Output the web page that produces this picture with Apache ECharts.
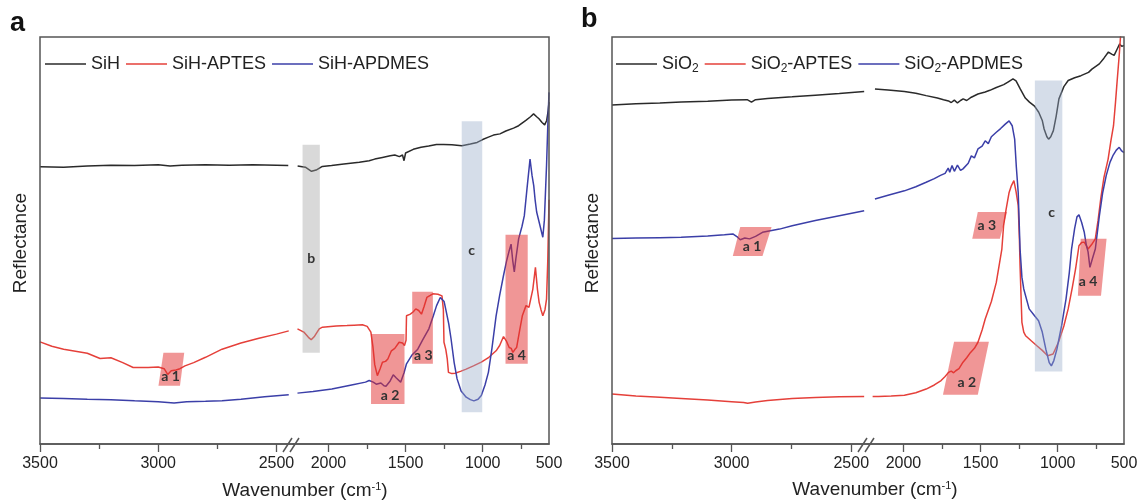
<!DOCTYPE html>
<html><head><meta charset="utf-8">
<script src="https://cdn.jsdelivr.net/npm/echarts@6/dist/echarts.min.js"></script>
<style>html,body{margin:0;padding:0;background:#fff}#c{width:1147px;height:501px}</style>
</head><body><div id="c"></div>
<script>
// ---------- tick labels / axis ranges (wavenumber, cm-1) ----------
const leftRange = [2430, 3500];
const rightRange = [570, 2230];
const ticksLeftMajor = [3500, 3000, 2500];
const ticksLeftMinor = [3250, 2750];
const ticksRightMajor = [2000, 1500, 1000];
const ticksRightMinor = [1750, 1250, 750];
const rightEndLabel = '500';

// ---------- panel a : SiH ----------
const aSiH_L = [[3500,68.1],[3400,68.0],[3300,68.3],[3200,68.5],[3100,68.4],[3000,68.6],[2950,68.3],[2900,68.5],[2800,68.6],[2700,68.5],[2600,68.6],[2500,68.5],[2450,68.4]];
const aSiH_R = [[2200,68.3],[2150,68.0],[2110,67.0],[2080,67.3],[2040,68.2],[1980,68.4],[1900,68.8],[1800,69.2],[1736,69.6],[1700,70.0],[1650,70.4],[1600,70.8],[1570,71.0],[1540,70.6],[1520,71.0],[1510,69.6],[1500,71.5],[1450,72.4],[1400,72.9],[1350,73.2],[1300,73.6],[1253,73.6],[1200,73.5],[1135,73.3],[1080,73.7],[1036,74.1],[1000,74.8],[963,75.4],[930,75.9],[888,76.2],[850,76.9],[800,77.6],[767,78.2],[720,79.5],[690,80.4],[670,81.1],[650,80.4],[635,79.9],[615,79.0],[598,78.4],[585,79.5],[575,82],[570,84]];
const aAPTES_L = [[3500,25.1],[3450,24.0],[3400,23.3],[3300,22.3],[3246,21.0],[3200,21.2],[3150,20.0],[3106,18.8],[3043,18.8],[3000,18.9],[2975,18.5],[2960,17.1],[2945,18.0],[2925,18.2],[2908,18.5],[2887,19.2],[2850,20.0],[2800,21.3],[2730,23.3],[2650,24.8],[2574,26.0],[2500,27.0],[2448,27.8]];
const aAPTES_R = [[2201,28.3],[2160,27.5],[2130,26.2],[2112,25.6],[2090,26.5],[2060,28.3],[2039,28.7],[1950,29.0],[1880,29.1],[1834,29.2],[1780,29.3],[1749,28.9],[1725,27.5],[1712,24],[1700,19.5],[1683,16.8],[1665,18.5],[1650,20.1],[1630,20.3],[1615,20.9],[1592,22.9],[1570,23.5],[1542,25.0],[1520,24.8],[1507,24.2],[1497,25.5],[1494,31.5],[1469,31.9],[1450,32.5],[1434,33.2],[1415,32.8],[1397,31.9],[1380,33.8],[1362,36.0],[1340,36.5],[1323,36.9],[1290,36.8],[1264,36.4],[1255,33],[1251,25.0],[1239,23.2],[1230,21],[1222,17.6],[1200,17.3],[1179,17.4],[1140,17.9],[1107,18.4],[1060,19.2],[1009,20.1],[960,21.3],[913,22.9],[890,24.2],[865,26.4],[845,25.2],[828,23.7],[815,23.5],[804,22.5],[792,23.2],[780,23.7],[760,28],[743,31.5],[719,34.0],[700,33.6],[695,33.2],[675,38],[658,43.4],[645,38],[634,34.8],[622,33],[610,31.5],[596,33],[586,35.6],[578,45],[570,60]];
const aAPDMES_L = [[3500,11.3],[3400,11.2],[3300,11.0],[3200,10.9],[3100,10.6],[3000,10.4],[2933,10.1],[2880,10.4],[2800,10.5],[2730,10.6],[2650,11.0],[2550,11.6],[2448,12.1]];
const aAPDMES_R = [[2201,12.5],[2100,12.9],[1978,13.5],[1850,14.5],[1760,15.2],[1736,15.6],[1710,15.2],[1690,14.7],[1660,15.0],[1640,14.3],[1627,14.2],[1600,15.5],[1580,17.0],[1560,16.2],[1532,15.2],[1510,17.5],[1494,19.7],[1460,21.8],[1421,23.3],[1390,25.5],[1349,28.3],[1320,31.5],[1299,34.0],[1275,36.0],[1264,36.4],[1250,35.0],[1239,33.0],[1220,29.5],[1205,25.8],[1185,20.0],[1166,16.0],[1140,13.0],[1107,11.5],[1080,10.9],[1057,10.6],[1030,11.0],[1009,11.9],[985,14.5],[963,17.6],[940,23.5],[913,31.5],[890,36.5],[865,41.4],[845,45.0],[828,47.5],[816,49.1],[805,45],[795,42.3],[785,45.5],[767,50.4],[745,53.5],[730,56.1],[712,63],[693,70.0],[680,66],[669,63.5],[660,60],[650,57],[610,50.8],[600,55],[586,68.4],[578,78],[570,86.4]];

// ---------- panel b : SiO2 ----------
const bSiO2_L = [[3500,83.3],[3400,83.6],[3300,83.8],[3211,84.0],[3100,84.2],[3000,84.5],[2935,84.6],[2917,84.0],[2900,84.6],[2850,84.9],[2747,85.3],[2650,85.7],[2550,86.1],[2446,86.6]];
const bSiO2_R = [[2185,87.2],[2100,87.0],[1994,86.6],[1920,86.2],[1853,85.6],[1780,85.0],[1740,84.6],[1708,84.3],[1690,83.9],[1670,84.5],[1650,83.8],[1630,84.4],[1613,84.8],[1590,84.4],[1560,85.2],[1517,86.0],[1470,86.5],[1440,86.9],[1398,87.6],[1350,88.3],[1320,89.0],[1290,89.7],[1270,89.2],[1242,87.2],[1210,85.0],[1183,84.0],[1150,83.0],[1123,81.5],[1100,79.5],[1088,77.4],[1070,75.5],[1059,74.9],[1045,75.5],[1028,77.0],[1010,80.5],[992,84.8],[960,87.8],[932,89.3],[890,90.0],[849,90.5],[800,91.3],[778,92.1],[730,93.4],[700,94.8],[671,96.3],[650,95.8],[634,95.5],[615,97],[598,98.3],[585,97.7],[570,97.9]];
const bAPTES_L = [[3500,12.3],[3400,11.8],[3300,11.5],[3211,11.2],[3100,10.8],[3000,10.4],[2950,10.2],[2933,10.0],[2900,10.3],[2850,10.7],[2747,11.2],[2650,11.4],[2550,11.6],[2446,11.7]];
const bAPTES_R = [[2200,11.7],[2162,11.7],[2080,11.8],[1994,12.0],[1920,12.6],[1853,13.5],[1800,14.5],[1756,15.6],[1730,16.6],[1708,17.6],[1690,17.9],[1675,17.5],[1661,18.0],[1640,18.5],[1614,20.1],[1590,21.2],[1565,22.5],[1540,23.5],[1517,25.0],[1490,28.0],[1470,30.7],[1430,35.0],[1398,39.7],[1362,47.9],[1351,53.6],[1335,57.5],[1315,61.8],[1300,63.5],[1284,64.7],[1270,62],[1256,58.6],[1248,50],[1244,43.8],[1232,29.9],[1220,27.5],[1208,26.6],[1170,25.3],[1137,24.2],[1100,23.0],[1065,21.7],[1030,22.1],[995,25.0],[960,29.0],[932,33.2],[905,38.5],[884,43.0],[862,48.7],[845,49.5],[828,49.6],[815,48.8],[803,47.9],[780,49.0],[756,50.4],[738,55.0],[721,60.2],[700,65.5],[673,70.0],[655,74.5],[638,78.2],[625,84],[615,88.9],[600,96],[591,101],[579,107]];
const bAPDMES_L = [[3500,50.5],[3400,50.6],[3300,50.7],[3211,50.8],[3100,51.1],[3030,51.4],[2995,51.6],[2975,50.8],[2964,50.2],[2945,50.6],[2925,50.4],[2900,51.0],[2871,52.0],[2800,52.8],[2747,53.6],[2650,54.9],[2550,56.1],[2446,57.3]];
const bAPDMES_R = [[2185,60.2],[2100,61.1],[1994,62.2],[1920,63.2],[1853,64.3],[1800,65.2],[1760,66.0],[1730,66.5],[1710,67.8],[1700,66.8],[1685,68.4],[1670,67.0],[1650,68.5],[1630,67.2],[1614,67.6],[1580,69.0],[1560,70.8],[1540,70.3],[1517,72.5],[1490,73.2],[1470,74.5],[1450,73.8],[1430,75.5],[1398,76.6],[1370,77.5],[1340,78.6],[1315,79.4],[1295,78.2],[1279,74.9],[1268,68],[1256,61.8],[1244,47.9],[1232,41],[1220,38.1],[1185,33.2],[1150,31.5],[1124,30.3],[1100,27.5],[1077,23.3],[1055,20.0],[1041,19.2],[1025,20.5],[1005,23.3],[975,29.0],[946,35.6],[925,42],[910,47.9],[890,53],[875,55.8],[862,56.3],[845,54.5],[828,52.1],[815,49],[803,47.2],[791,43.4],[775,45.5],[756,47.9],[730,56],[708,61.8],[685,66],[661,69.2],[640,71],[620,72.2],[601,72.9],[585,72.0],[570,71.6]];

// ---------- highlighted regions (wavenumber, value) ----------
const aLeftMarks = [
  {label:'a 1', kind:'pink', poly:[[2978,22.4],[2890,22.4],[2908,14.3],[2999,14.3]], at:[2948,16.6]}
];
const aRightMarks = [
  {label:'b', kind:'gray', poly:[[2168,73.5],[2056,73.5],[2056,22.4],[2168,22.4]], at:[2112,45.6]},
  {label:'c', kind:'blue', poly:[[1136,79.3],[1003,79.3],[1003,7.8],[1136,7.8]], at:[1071,47.5]},
  {label:'a 2', kind:'pink', poly:[[1724,27.0],[1507,27.0],[1507,9.8],[1724,9.8]], at:[1600,11.8]},
  {label:'a 3', kind:'pink', poly:[[1457,37.4],[1323,37.4],[1323,19.7],[1457,19.7]], at:[1385,21.8]},
  {label:'a 4', kind:'pink', poly:[[852,51.4],[708,51.4],[708,19.7],[852,19.7]], at:[780,21.8]}
];
const bLeftMarks = [
  {label:'a 1', kind:'pink', poly:[[2964,53.3],[2833,53.3],[2871,46.2],[2995,46.2]], at:[2915,48.6]}
];
const bRightMarks = [
  {label:'c', kind:'blue', poly:[[1148,89.3],[970,89.3],[970,17.8],[1148,17.8]], at:[1040,57]},
  {label:'a 2', kind:'pink', poly:[[1672,25.1],[1446,25.1],[1518,12.1],[1744,12.1]], at:[1589,15]},
  {label:'a 3', kind:'pink', poly:[[1518,57.0],[1328,57.0],[1375,50.4],[1554,50.4]], at:[1460,53.7]},
  {label:'a 4', kind:'pink', poly:[[851,50.4],[683,50.4],[719,36.4],[869,36.4]], at:[803,40]}
];

// ---------- styling / layout ----------
const C_BLACK = '#2a2a2a', C_RED = '#e5403a', C_BLUE = '#3b3fa8';
const FILL = {pink:'rgba(225,45,45,0.5)', gray:'rgba(160,160,160,0.4)', blue:'rgba(150,170,200,0.4)'};
const FONT = "'Liberation Sans', Arial, sans-serif";
const TOP = 37, H = 407;
const grids = [
  {left:40, top:TOP, width:253, height:H},
  {left:293, top:TOP, width:256, height:H},
  {left:612, top:TOP, width:256, height:H},
  {left:868, top:TOP, width:256, height:H}
];
const AX = '#555';

function majorAxis(gi, isLeft) {
  const r = isLeft ? leftRange : rightRange;
  const ticks = isLeft ? ticksLeftMajor : ticksRightMajor;
  return {
    type:'value', gridIndex:gi, position:'bottom', min:r[0], max:r[1], inverse:true,
    axisLine:{show:true, lineStyle:{color:AX, width:1.5}},
    axisTick:{show:true, customValues:ticks, length:8, lineStyle:{color:AX, width:1.3}},
    axisLabel:{show:true, customValues: isLeft ? ticks : ticks.concat([r[0]]),
      formatter: v => (!isLeft && v === r[0]) ? rightEndLabel : String(v),
      color:'#222', fontSize:16, fontFamily:FONT, margin:12},
    splitLine:{show:false}
  };
}
function minorAxis(gi, isLeft) {
  const r = isLeft ? leftRange : rightRange;
  return {
    type:'value', gridIndex:gi, position:'bottom', min:r[0], max:r[1], inverse:true,
    axisLine:{show:false},
    axisTick:{show:true, customValues: isLeft ? ticksLeftMinor : ticksRightMinor, length:5, lineStyle:{color:AX, width:1.3}},
    axisLabel:{show:false}, splitLine:{show:false}
  };
}
const xAxes = [majorAxis(0,true), majorAxis(1,false), majorAxis(2,true), majorAxis(3,false),
               minorAxis(0,true), minorAxis(1,false), minorAxis(2,true), minorAxis(3,false)];
const yAxes = [0,1,2,3].map(gi => ({type:'value', gridIndex:gi, min:0, max:100, show:false}));

function line(name, data, gi, color) {
  return {type:'line', name, data, xAxisIndex:gi, yAxisIndex:gi, symbol:'none', showSymbol:false,
    lineStyle:{color, width:1.5}, itemStyle:{color}, z:2, animation:false};
}
function marks(list, gi) {
  return {
    type:'custom', xAxisIndex:gi, yAxisIndex:gi, z:5, silent:true, animation:false,
    data: list.map(b => b.at),
    renderItem: (params, api) => {
      const b = list[params.dataIndex];
      const pts = b.poly.map(p => api.coord(p));
      const t = api.coord(b.at);
      return {type:'group', children:[
        {type:'polygon', shape:{points:pts}, style:{fill:FILL[b.kind]}},
        {type:'text', x:t[0], y:t[1], style:{text:b.label, fill:'#333', font:"bold 14px Lato, 'Open Sans', sans-serif", align:'center', verticalAlign:'middle'}}
      ]};
    }
  };
}

const series = [
  line('SiH', aSiH_L, 0, C_BLACK), line('SiH', aSiH_R, 1, C_BLACK),
  line('SiH-APTES', aAPTES_L, 0, C_RED), line('SiH-APTES', aAPTES_R, 1, C_RED),
  line('SiH-APDMES', aAPDMES_L, 0, C_BLUE), line('SiH-APDMES', aAPDMES_R, 1, C_BLUE),
  line('SiO2', bSiO2_L, 2, C_BLACK), line('SiO2', bSiO2_R, 3, C_BLACK),
  line('SiO2-APTES', bAPTES_L, 2, C_RED), line('SiO2-APTES', bAPTES_R, 3, C_RED),
  line('SiO2-APDMES', bAPDMES_L, 2, C_BLUE), line('SiO2-APDMES', bAPDMES_R, 3, C_BLUE),
  marks(aLeftMarks, 0), marks(aRightMarks, 1), marks(bLeftMarks, 2), marks(bRightMarks, 3)
];

const legendText = {color:'#222', fontSize:18, fontFamily:FONT,
  rich:{s:{fontSize:12, fontFamily:FONT, color:'#222', padding:[9,0,0,0]}}};
const legendBase = {icon:'rect', top:55, padding:0, itemWidth:41, itemHeight:1.6, itemGap:6, textStyle:legendText};
const legends = [
  {...legendBase, data:['SiH','SiH-APTES','SiH-APDMES'], left:45},
  {...legendBase, data:['SiO2','SiO2-APTES','SiO2-APDMES'], left:616,
   formatter: n => n.replace('SiO2', 'SiO{s|2}')}
];

function frame(g1, g2) {
  return {type:'rect', shape:{x:g1.left, y:g1.top, width:g2.left + g2.width - g1.left, height:g1.height},
    style:{fill:'none', stroke:AX, lineWidth:1.5}, z:10, silent:true};
}
function breakMarks(x, y) {
  return [
    {type:'line', shape:{x1:x-10, y1:y+8, x2:x-1, y2:y-6}, style:{stroke:AX, lineWidth:1.5}, z:11},
    {type:'line', shape:{x1:x-3, y1:y+8, x2:x+6, y2:y-6}, style:{stroke:AX, lineWidth:1.5}, z:11}
  ];
}
const axisY = TOP + H;
const textStyleBase = {fill:'#222', fontFamily:FONT};
const graphic = [
  frame(grids[0], grids[1]), frame(grids[2], grids[3]),
  ...breakMarks(grids[1].left, axisY), ...breakMarks(grids[3].left, axisY),
  {type:'text', x:10, y:10, style:{text:'a', fill:'#111', font:"bold 27px "+FONT}},
  {type:'text', x:581, y:6, style:{text:'b', fill:'#111', font:"bold 27px "+FONT}},
  {type:'text', x:21, y:243, rotation:Math.PI/2, style:{...textStyleBase, text:'Reflectance', fontSize:19, align:'center', verticalAlign:'middle'}},
  {type:'text', x:593, y:243, rotation:Math.PI/2, style:{...textStyleBase, text:'Reflectance', fontSize:19, align:'center', verticalAlign:'middle'}},
  {type:'text', x:305, y:491, style:{...textStyleBase, text:'Wavenumber (cm{sup|-1})', fontSize:19, align:'center', verticalAlign:'middle',
     rich:{sup:{fontSize:11, fontFamily:FONT, fill:'#222', padding:[0,0,9,0]}}}},
  {type:'text', x:875, y:490, style:{...textStyleBase, text:'Wavenumber (cm{sup|-1})', fontSize:19, align:'center', verticalAlign:'middle',
     rich:{sup:{fontSize:11, fontFamily:FONT, fill:'#222', padding:[0,0,9,0]}}}}
];

const chart = echarts.init(document.getElementById('c'), null, {renderer:'canvas'});
chart.setOption({
  animation:false, backgroundColor:'#fff',
  grid: grids, xAxis: xAxes, yAxis: yAxes, legend: legends, series, graphic
});
</script></body></html>
